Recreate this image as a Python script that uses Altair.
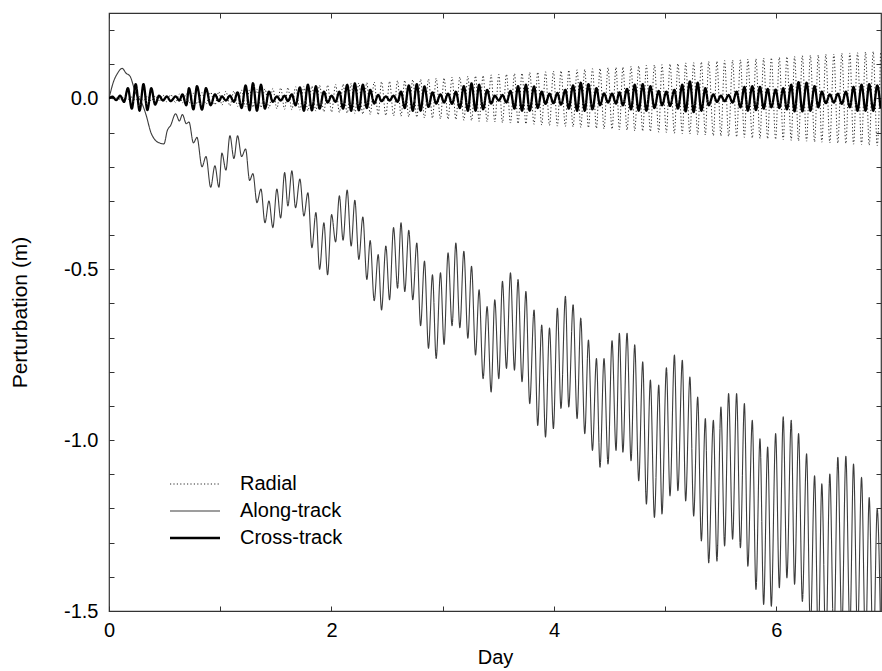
import altair as alt
import pandas as pd

series_names = ["Radial", "Along-track", "Cross-track"]

# ---- Along-track: start of the curve ----
day_along_early = [0.000, 0.045, 0.072, 0.119, 0.153, 0.189, 0.240, 0.297, 0.332,
                   0.377, 0.422, 0.460, 0.494, 0.524, 0.554]
along_early = [0.000, 0.053, 0.071, 0.088, 0.074, 0.065, 0.015, -0.015, -0.047,
               -0.100, -0.124, -0.131, -0.133, -0.094, -0.079]

# ---- Radial / Cross-track: first oscillations ----
day_early = [0.000, 0.030, 0.065, 0.100, 0.135, 0.170, 0.205, 0.240, 0.275, 0.310,
             0.345, 0.380, 0.415, 0.450, 0.485, 0.520, 0.555]
cross_early = [0.000, 0.005, -0.005, 0.008, -0.010, 0.030, -0.030, 0.042, -0.036, 0.042,
               -0.034, 0.030, -0.018, 0.008, -0.006, 0.006, -0.008]
radial_early = [0.000, -0.001, 0.001, -0.002, 0.003, -0.003, 0.004, -0.005, 0.005, -0.006,
                0.007, -0.008, 0.008, -0.009, 0.010, -0.010, 0.011]

# ---- Times of the orbital-period extremes ----
day_osc = [
    0.599, 0.633, 0.660, 0.695, 0.719, 0.759, 0.791, 0.836, 0.872, 0.914,
    0.952, 0.988, 1.015, 1.051, 1.087, 1.123, 1.156, 1.192, 1.228, 1.264,
    1.294, 1.330, 1.366, 1.402, 1.438, 1.473, 1.509, 1.543, 1.579, 1.608,
    1.644, 1.677, 1.716, 1.752, 1.788, 1.824, 1.860, 1.893, 1.932, 1.965,
    2.001, 2.037, 2.071, 2.104, 2.141, 2.177, 2.210, 2.246, 2.282, 2.318,
    2.348, 2.384, 2.420, 2.450, 2.489, 2.522, 2.558, 2.594, 2.625, 2.659,
    2.695, 2.731, 2.767, 2.801, 2.836, 2.872, 2.908, 2.941, 2.980, 3.012,
    3.048, 3.084, 3.118, 3.154, 3.190, 3.226, 3.259, 3.295, 3.327, 3.363,
    3.399, 3.435, 3.468, 3.504, 3.537, 3.573, 3.609, 3.645, 3.677, 3.713,
    3.748, 3.782, 3.821, 3.854, 3.890, 3.924, 3.960, 3.995, 4.031, 4.063,
    4.103, 4.133, 4.172, 4.208, 4.241, 4.277, 4.310, 4.346, 4.382, 4.414,
    4.450, 4.486, 4.522, 4.558, 4.588, 4.620, 4.657, 4.693, 4.726, 4.762,
    4.798, 4.831, 4.867, 4.903, 4.942, 4.971, 5.011, 5.043, 5.083, 5.114,
    5.154, 5.184, 5.222, 5.256, 5.292, 5.325, 5.361, 5.391, 5.433, 5.465,
    5.501, 5.534, 5.570, 5.606, 5.642, 5.676, 5.712, 5.743, 5.783, 5.816,
    5.852, 5.885, 5.921, 5.954, 5.993, 6.026, 6.061, 6.094, 6.133, 6.163,
    6.199, 6.233, 6.271, 6.305, 6.343, 6.376, 6.408, 6.444, 6.480, 6.516,
    6.552, 6.588, 6.624, 6.660, 6.693, 6.729, 6.765, 6.801, 6.834, 6.870,
    6.906, 6.936]

along_osc = [
    -0.045, -0.066, -0.047, -0.074, -0.069, -0.130, -0.114, -0.200, -0.170, -0.260,
    -0.197, -0.260, -0.160, -0.210, -0.109, -0.176, -0.109, -0.170, -0.148, -0.240,
    -0.220, -0.305, -0.265, -0.364, -0.300, -0.378, -0.265, -0.350, -0.217, -0.315,
    -0.212, -0.320, -0.236, -0.344, -0.276, -0.437, -0.334, -0.500, -0.364, -0.516,
    -0.340, -0.420, -0.285, -0.415, -0.268, -0.432, -0.298, -0.471, -0.347, -0.530,
    -0.416, -0.592, -0.457, -0.619, -0.432, -0.589, -0.378, -0.555, -0.364, -0.565,
    -0.386, -0.589, -0.423, -0.665, -0.476, -0.731, -0.516, -0.761, -0.510, -0.720,
    -0.452, -0.665, -0.423, -0.671, -0.447, -0.702, -0.491, -0.751, -0.560, -0.820,
    -0.609, -0.859, -0.589, -0.820, -0.535, -0.790, -0.510, -0.795, -0.530, -0.829,
    -0.565, -0.893, -0.619, -0.957, -0.663, -0.991, -0.672, -0.966, -0.614, -0.907,
    -0.579, -0.903, -0.604, -0.937, -0.643, -0.981, -0.707, -1.030, -0.761, -1.079,
    -0.761, -1.070, -0.709, -1.030, -0.687, -1.035, -0.687, -1.060, -0.721, -1.119,
    -0.771, -1.187, -0.824, -1.226, -0.839, -1.216, -0.788, -1.163, -0.751, -1.148,
    -0.766, -1.178, -0.815, -1.222, -0.874, -1.295, -0.937, -1.359, -0.942, -1.354,
    -0.903, -1.310, -0.864, -1.290, -0.864, -1.315, -0.893, -1.369, -0.942, -1.437,
    -0.996, -1.481, -1.020, -1.486, -0.981, -1.432, -0.932, -1.403, -0.942, -1.422,
    -0.981, -1.472, -1.040, -1.560, -1.104, -1.600, -1.128, -1.620, -1.099, -1.600,
    -1.050, -1.560, -1.047, -1.560, -1.070, -1.580, -1.109, -1.620, -1.168, -1.660,
    -1.202, -1.550]

cross_osc = [
    0.006, -0.006, 0.012, -0.020, 0.030, -0.032, 0.036, -0.033, 0.030, -0.020,
    0.012, -0.008, 0.006, -0.006, 0.008, -0.010, 0.018, -0.028, 0.038, -0.035,
    0.045, -0.036, 0.040, -0.030, 0.020, -0.010, 0.006, -0.006, 0.008, -0.008,
    0.012, -0.020, 0.032, -0.036, 0.040, -0.035, 0.036, -0.030, 0.020, -0.012,
    0.008, -0.010, 0.020, -0.030, 0.040, -0.036, 0.044, -0.035, 0.040, -0.028,
    0.025, -0.015, 0.010, -0.008, 0.006, -0.006, 0.008, -0.010, 0.020, -0.028,
    0.038, -0.036, 0.042, -0.036, 0.035, -0.025, 0.018, -0.015, 0.012, -0.012,
    0.014, -0.016, 0.020, -0.028, 0.036, -0.036, 0.044, -0.036, 0.040, -0.032,
    0.025, -0.015, 0.008, -0.006, 0.010, -0.012, 0.022, -0.030, 0.036, -0.036,
    0.040, -0.036, 0.035, -0.028, 0.020, -0.016, 0.014, -0.014, 0.016, -0.018,
    0.025, -0.030, 0.038, -0.036, 0.046, -0.036, 0.042, -0.032, 0.030, -0.020,
    0.015, -0.012, 0.014, -0.015, 0.018, -0.020, 0.028, -0.032, 0.040, -0.036,
    0.042, -0.036, 0.036, -0.028, 0.022, -0.020, 0.020, -0.022, 0.025, -0.030,
    0.040, -0.038, 0.050, -0.040, 0.046, -0.036, 0.030, -0.020, 0.012, -0.010,
    0.008, -0.008, 0.010, -0.012, 0.020, -0.026, 0.034, -0.036, 0.036, -0.034,
    0.034, -0.030, 0.028, -0.026, 0.026, -0.028, 0.030, -0.032, 0.040, -0.038,
    0.048, -0.038, 0.046, -0.036, 0.036, -0.026, 0.020, -0.014, 0.012, -0.012,
    0.014, -0.016, 0.020, -0.026, 0.034, -0.036, 0.040, -0.036, 0.042, -0.036,
    0.038, -0.030]

radial_osc = [
    -0.012, 0.013, -0.013, 0.014, -0.014, 0.015, -0.016, 0.017, -0.017, 0.018,
    -0.019, 0.020, -0.020, 0.021, -0.022, 0.022, -0.023, 0.024, -0.025, 0.025,
    -0.026, 0.027, -0.027, 0.028, -0.029, 0.029, -0.030, 0.031, -0.032, 0.032,
    -0.033, 0.034, -0.034, 0.035, -0.036, 0.036, -0.037, 0.038, -0.039, 0.039,
    -0.040, 0.041, -0.041, 0.042, -0.043, 0.044, -0.044, 0.045, -0.046, 0.046,
    -0.047, 0.048, -0.048, 0.049, -0.050, 0.050, -0.051, 0.052, -0.052, 0.053,
    -0.054, 0.055, -0.055, 0.056, -0.057, 0.057, -0.058, 0.059, -0.060, 0.060,
    -0.061, 0.062, -0.062, 0.063, -0.064, 0.065, -0.065, 0.066, -0.067, 0.067,
    -0.068, 0.069, -0.069, 0.070, -0.071, 0.071, -0.072, 0.073, -0.074, 0.074,
    -0.075, 0.076, -0.076, 0.077, -0.078, 0.078, -0.079, 0.080, -0.081, 0.081,
    -0.082, 0.083, -0.083, 0.084, -0.085, 0.085, -0.086, 0.087, -0.088, 0.088,
    -0.089, 0.090, -0.090, 0.091, -0.092, 0.092, -0.093, 0.094, -0.095, 0.095,
    -0.096, 0.097, -0.097, 0.098, -0.099, 0.099, -0.100, 0.101, -0.102, 0.102,
    -0.103, 0.104, -0.104, 0.105, -0.106, 0.107, -0.107, 0.108, -0.109, 0.109,
    -0.110, 0.111, -0.111, 0.112, -0.113, 0.113, -0.114, 0.115, -0.116, 0.116,
    -0.117, 0.118, -0.118, 0.119, -0.120, 0.120, -0.121, 0.122, -0.123, 0.123,
    -0.124, 0.125, -0.125, 0.126, -0.127, 0.127, -0.128, 0.129, -0.130, 0.130,
    -0.131, 0.132, -0.132, 0.133, -0.134, 0.134, -0.135, 0.136, -0.137, 0.137,
    -0.138, 0.139]

x_ticks = [0, 1, 2, 3, 4, 5, 6]
y_ticks = [0.2, 0.1, 0.0, -0.1, -0.2, -0.3, -0.4, -0.5, -0.6, -0.7, -0.8, -0.9,
           -1.0, -1.1, -1.2, -1.3, -1.4, -1.5]

# ---- table ----
frames = [
    pd.DataFrame({"day": day_early + day_osc, "value": radial_early + radial_osc, "series": "Radial"}),
    pd.DataFrame({"day": day_along_early + day_osc, "value": along_early + along_osc, "series": "Along-track"}),
    pd.DataFrame({"day": day_early + day_osc, "value": cross_early + cross_osc, "series": "Cross-track"}),
]
df = pd.concat(frames, ignore_index=True)

FONT = "Liberation Sans"

xscale = alt.Scale(domain=[0, 6.94], nice=False, zero=False)
yscale = alt.Scale(domain=[-1.5, 0.25], nice=False, zero=False)

legend = alt.Legend(title=None, orient="none", legendX=76, legendY=461,
                    symbolType="M-5,0H5", symbolSize=100, labelOffset=35,
                    labelFont=FONT, labelFontSize=20, labelColor="black",
                    rowPadding=7, padding=0, labelLimit=300)

color = alt.Color("series:N", scale=alt.Scale(domain=series_names,
                  range=["#2a2a2a", "#3c3c3c", "#000000"]), legend=legend)
dash = alt.StrokeDash("series:N", scale=alt.Scale(domain=series_names,
                      range=[[1.2, 2.2], [1, 0], [1, 0]]), legend=legend)
width = alt.StrokeWidth("series:N", scale=alt.Scale(type="ordinal", domain=series_names,
                        range=[1.0, 1.1, 2.3]), legend=legend)

common_axis = dict(domain=False, grid=False, tickSize=5, offset=-5,
                   tickColor="#333333", tickWidth=1, labelOverlap=False,
                   labelFlush=False)

x_bottom = alt.Axis(orient="bottom", values=x_ticks,
                    labelExpr="datum.value % 2 == 0 ? format(datum.value, 'd') : ''",
                    labelFont=FONT, labelFontSize=20, labelColor="black", labelPadding=9,
                    title="Day", titleFont=FONT, titleFontSize=20, titleFontWeight="normal",
                    titleColor="black", titlePadding=7, **common_axis)
y_left = alt.Axis(orient="left", values=y_ticks,
                  labelExpr="abs(datum.value * 2 - round(datum.value * 2)) < 0.001 ? "
                            "(datum.value < -0.001 ? '-' : '') + format(abs(datum.value), '.1f') : ''",
                  labelFont=FONT, labelFontSize=20, labelColor="black", labelPadding=11,
                  title="Perturbation (m)", titleFont=FONT, titleFontSize=21,
                  titleFontWeight="normal", titleColor="black", titlePadding=33,
                  **common_axis)
x_top = alt.Axis(orient="top", values=x_ticks, labels=False, title=None, **common_axis)
y_right = alt.Axis(orient="right", values=y_ticks, labels=False, title=None, **common_axis)

base = alt.Chart(df).mark_line(interpolate="monotone", clip=True, strokeCap="butt")

radial = base.transform_filter(alt.datum.series == "Radial").encode(
    x=alt.X("day:Q", scale=xscale, axis=x_bottom),
    y=alt.Y("value:Q", scale=yscale, axis=y_left),
    color=color, strokeDash=dash, strokeWidth=width)

along = base.transform_filter(alt.datum.series == "Along-track").encode(
    x=alt.X("day:Q", scale=xscale, axis=None),
    y=alt.Y("value:Q", scale=yscale, axis=None),
    color=color, strokeDash=dash, strokeWidth=width)

cross = base.transform_filter(alt.datum.series == "Cross-track").encode(
    x=alt.X("day:Q", scale=xscale, axis=x_top),
    y=alt.Y("value:Q", scale=yscale, axis=y_right),
    color=color, strokeDash=dash, strokeWidth=width)

chart = alt.layer(radial, along, cross).resolve_axis(
    x="independent", y="independent"
).properties(
    width=772, height=598,
    autosize=alt.AutoSizeParams(type="none"),
    padding={"left": 109, "top": 13, "right": 1, "bottom": 60},
    background="white",
).configure_view(stroke="#333333", strokeWidth=1.2)

chart.save("out.html", embed_options={"renderer": "svg", "actions": False})
